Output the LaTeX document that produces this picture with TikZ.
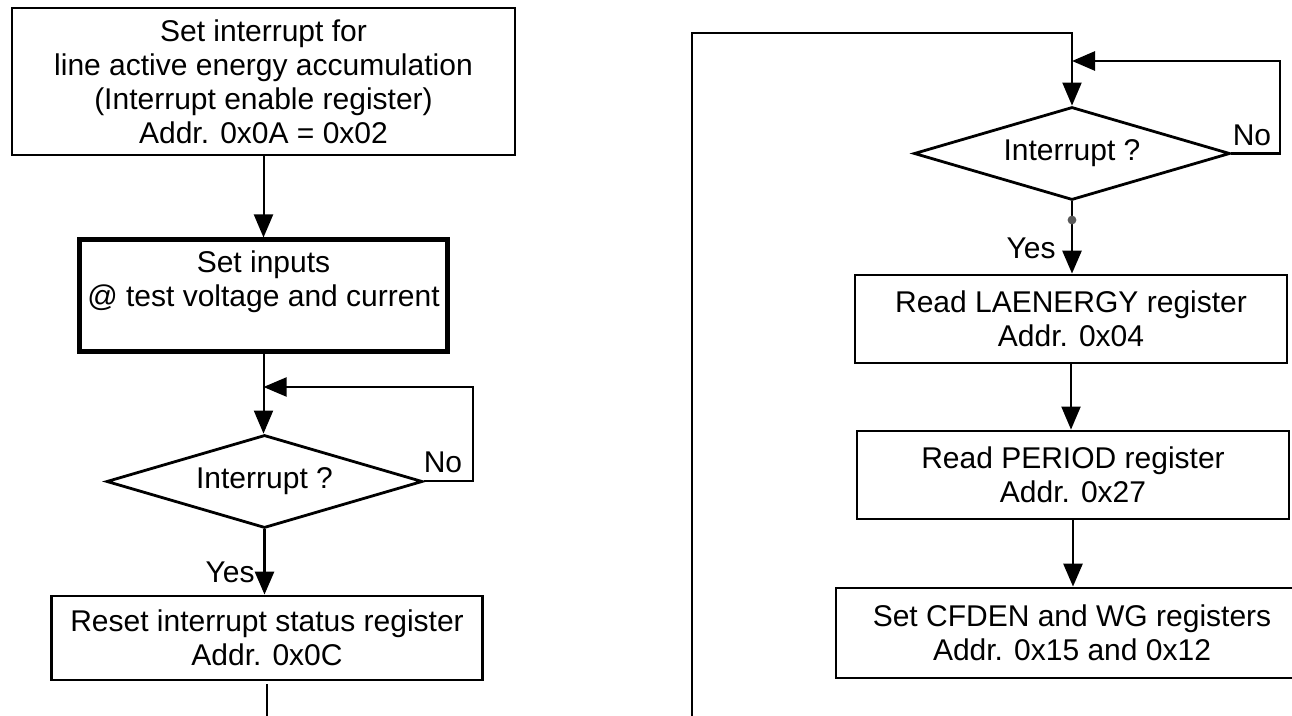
\documentclass[tikz,border=0pt]{standalone}
\usepackage{fontspec}
\setmainfont{Liberation Sans}
\usetikzlibrary{arrows.meta,shapes.geometric}
\begin{document}
\begin{tikzpicture}[x=0.5pt,y=-0.5pt,
  font=\fontsize{15pt}{17pt}\selectfont,
  box/.style={draw, rectangle, line width=1.4pt, inner sep=0pt, align=center},
  dec/.style={draw, diamond, aspect=3.4, line width=1.4pt, inner sep=0pt,
              minimum width=158pt, minimum height=46.5pt},
  arr/.style={-{Triangle[length=11.5pt,width=9.5pt]}},
  thinl/.style={line width=1pt},
  medl/.style={line width=1.4pt},
  lbl/.style={inner sep=0pt}]
\clip (0,0) rectangle (1292,716);
\fill[white] (0,0) rectangle (1292,716);

% ---------- left column ----------
\node[box, minimum width=251.5pt, minimum height=73.5pt] (b1) at (263.5,81.5)
  {Set interrupt for\\line active energy accumulation\\(Interrupt enable register)\\Addr. 0x0A = 0x02};
\node[box, line width=2.5pt, minimum width=184pt, minimum height=56pt] (b2) at (263.5,296)
  {Set inputs\\@ test voltage and current\\\mbox{}};
\node[dec] (d1) at (264.5,481.5) {Interrupt ?};
\node[box, minimum width=215.5pt, minimum height=42pt] (b3) at (267,638)
  {Reset interrupt status register\\Addr. 0x0C};

\coordinate (j1) at (263.5,387);
\coordinate (l1) at (473,387);
\coordinate (e1) at (267,716);

\draw[thinl, arr] (b1.south) -- (b2.north);
\draw[thinl, arr] (b2.south) -- (b2.south |- d1.north);
\draw[thinl, arr] (d1.east) -| (l1) -- (j1);
\draw[medl, arr] (d1.south) -- (d1.south |- b3.north);
\draw[medl] (b3.south) ++(0,-1.5pt) -- (e1);

\node[lbl] (no1) at (443,462) {No};
\node[lbl, anchor=east] (yes1) at (255,572) {Yes};

% ---------- right column ----------
\node[dec] (d2) at (1072,153.5) {Interrupt ?};
\node[box, minimum width=216pt, minimum height=44pt] (b4) at (1071,319)
  {Read LAENERGY register\\Addr. 0x04};
\node[box, minimum width=216pt, minimum height=44pt] (b5) at (1073,475)
  {Read PERIOD register\\Addr. 0x27};
\node[box, minimum width=236pt, minimum height=45pt] (b6) at (1072,633)
  {Set CFDEN and WG registers\\Addr. 0x15 and 0x12};

\coordinate (bl) at (692,716);
\coordinate (tl) at (692,33);
\coordinate (tm) at (835,33);
\coordinate (tr) at (1072,33);
\coordinate (l2) at (1280,61);
\coordinate (j2) at (1072,61);
\coordinate (dot) at (1072,220);

\draw[medl] (bl) -- (tl) -- (tm);
\draw[thinl, arr] (tm) -- (tr) -- (d2.north);
\draw[medl, arr] (d2.east) -| (l2) -- (j2);
\draw[medl, arr] (d2.south) -- (d2.south |- b4.north);
\draw[thinl, arr] (b4.south) -- (b4.south |- b5.north);
\draw[medl, arr] (b5.south) -- (b5.south |- b6.north);
\fill[black!65] (dot) circle (2.2pt);

\node[lbl] (no2) at (1252,135) {No};
\node[lbl, anchor=east] (yes2) at (1056,248) {Yes};
\end{tikzpicture}
\end{document}
